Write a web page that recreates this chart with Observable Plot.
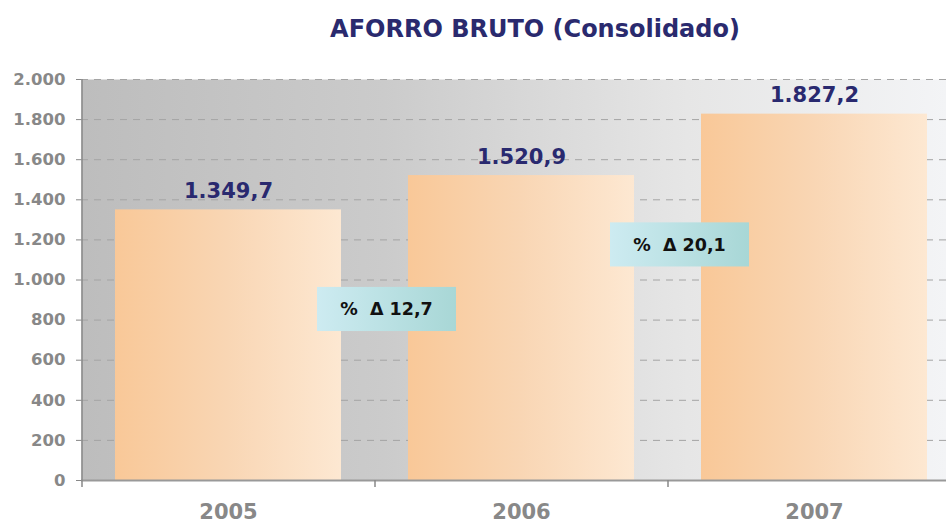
<!DOCTYPE html>
<html>
<head>
<meta charset="utf-8">
<script src="https://cdn.jsdelivr.net/npm/d3@7"></script>
<script src="https://cdn.jsdelivr.net/npm/@observablehq/plot@0.6"></script>
<style>
  html, body { margin: 0; padding: 0; background: #fff; overflow: hidden; }
  #wrap { position: relative; width: 946px; height: 524px; overflow: hidden; }
  #title { position: absolute; left: 0; top: 0; width: 1070px; height: 62px; text-align: center;
    font-family: "DejaVu Sans", sans-serif; font-weight: bold; font-size: 24px; color: #2a2a6e;
    line-height: 24px; padding-top: 17px; box-sizing: border-box; }
  #chart { position: absolute; left: 0; top: 62px; }
</style>
</head>
<body>
<div id="wrap">
  <div id="title">AFORRO BRUTO (Consolidado)</div>
  <div id="chart"></div>
</div>
<script>
const years = ["2005", "2006", "2007"];
const values = [1349.7, 1520.9, 1827.2];
const yTicks = [0, 200, 400, 600, 800, 1000, 1200, 1400, 1600, 1800, 2000];
const changeTo = ["2006", "2007"];
const changePct = [12.7, 20.1];
const changeLevel = [853, 1175];

const locale = d3.formatLocale({decimal: ",", thousands: ".", grouping: [3], currency: ["", "€"]});
const fmtInt = locale.format(",d");
const fmtVal = locale.format(",.1f");

const data = years.map((y, i) => ({year: y, value: values[i]}));
const annos = changeTo.map((y, i) => ({year: y, pct: changePct[i], level: changeLevel[i]}));

const FONT = "DejaVu Sans, sans-serif";

const defs = () => {
  const g = d3.create("svg:defs");
  const bg = g.append("linearGradient").attr("id", "bgGrad").attr("x1", 0).attr("x2", 1).attr("y1", 0).attr("y2", 0);
  bg.append("stop").attr("offset", "0").attr("stop-color", "#bdbdbd");
  bg.append("stop").attr("offset", "0.35").attr("stop-color", "#cbcbcb");
  bg.append("stop").attr("offset", "0.7").attr("stop-color", "#e6e6e6");
  bg.append("stop").attr("offset", "1").attr("stop-color", "#f3f4f6");
  const bar = g.append("linearGradient").attr("id", "barGrad").attr("x1", 0).attr("x2", 1).attr("y1", 0).attr("y2", 0);
  bar.append("stop").attr("offset", "0").attr("stop-color", "#f9c898");
  bar.append("stop").attr("offset", "0.5").attr("stop-color", "#f9d6b4");
  bar.append("stop").attr("offset", "1").attr("stop-color", "#fde8d2");
  const an = g.append("linearGradient").attr("id", "annoGrad").attr("x1", 0).attr("x2", 1).attr("y1", 0).attr("y2", 0);
  an.append("stop").attr("offset", "0").attr("stop-color", "#cdebf1");
  an.append("stop").attr("offset", "1").attr("stop-color", "#a8d7d6");
  return g.node();
};

const plot = Plot.plot({
  width: 946,
  height: 462,
  marginTop: 17,
  marginBottom: 44,
  marginLeft: 81,
  marginRight: 0,
  style: {fontFamily: FONT, background: "transparent", overflow: "hidden"},
  x: {domain: years, range: [81, 960], paddingInner: 0.23, paddingOuter: 0.115, axis: null, label: null},
  y: {domain: [0, 2000], axis: null, label: null},
  marks: [
    defs,
    Plot.frame({fill: "url(#bgGrad)", stroke: null}),
    Plot.gridY(yTicks, {stroke: "#a4a4a4", strokeOpacity: 1, strokeDasharray: "7,6", strokeWidth: 1}),
    Plot.barY(data, {x: "year", y: "value", fill: "url(#barGrad)"}),
    Plot.ruleY([0], {stroke: "#999", strokeWidth: 2}),
    Plot.ruleX(["2005"], {x: d => d, y1: 0, y2: 2000, dx: -146.5, stroke: "#888", strokeWidth: 1.5}),
    Plot.axisY({ticks: yTicks, tickSize: 5, tickPadding: 11, tickFormat: fmtInt, fontSize: 16.5, label: null,
      fontWeight: "bold", fill: "#888", stroke: "#888", fontFamily: FONT}),
    Plot.axisX({text: null, tickSize: 7, dx: -146.5, stroke: "#888", strokeWidth: 1.5, label: null}),
    Plot.axisX({tickSize: 0, tickPadding: 24, fontSize: 21, fontWeight: "bold", fill: "#888", fontFamily: FONT, label: null}),
    Plot.text(data, {x: "year", y: "value", text: d => fmtVal(d.value), lineAnchor: "bottom", dy: -12,
      fontSize: 21, fontWeight: "bold", fill: "#29296f", fontFamily: FONT}),
    Plot.rect(annos, {x: "year", y1: d => d.level - 110, y2: d => d.level + 110, insetLeft: -91, insetRight: 178,
      fill: "url(#annoGrad)"}),
    Plot.text(annos, {x: "year", y: "level", dx: -135, text: d => "%\u00a0 Δ " + locale.format(".1f")(d.pct),
      fontSize: 17.5, fontWeight: "bold", fill: "#111", fontFamily: FONT})
  ]
});
document.getElementById("chart").appendChild(plot);
</script>
</body>
</html>
